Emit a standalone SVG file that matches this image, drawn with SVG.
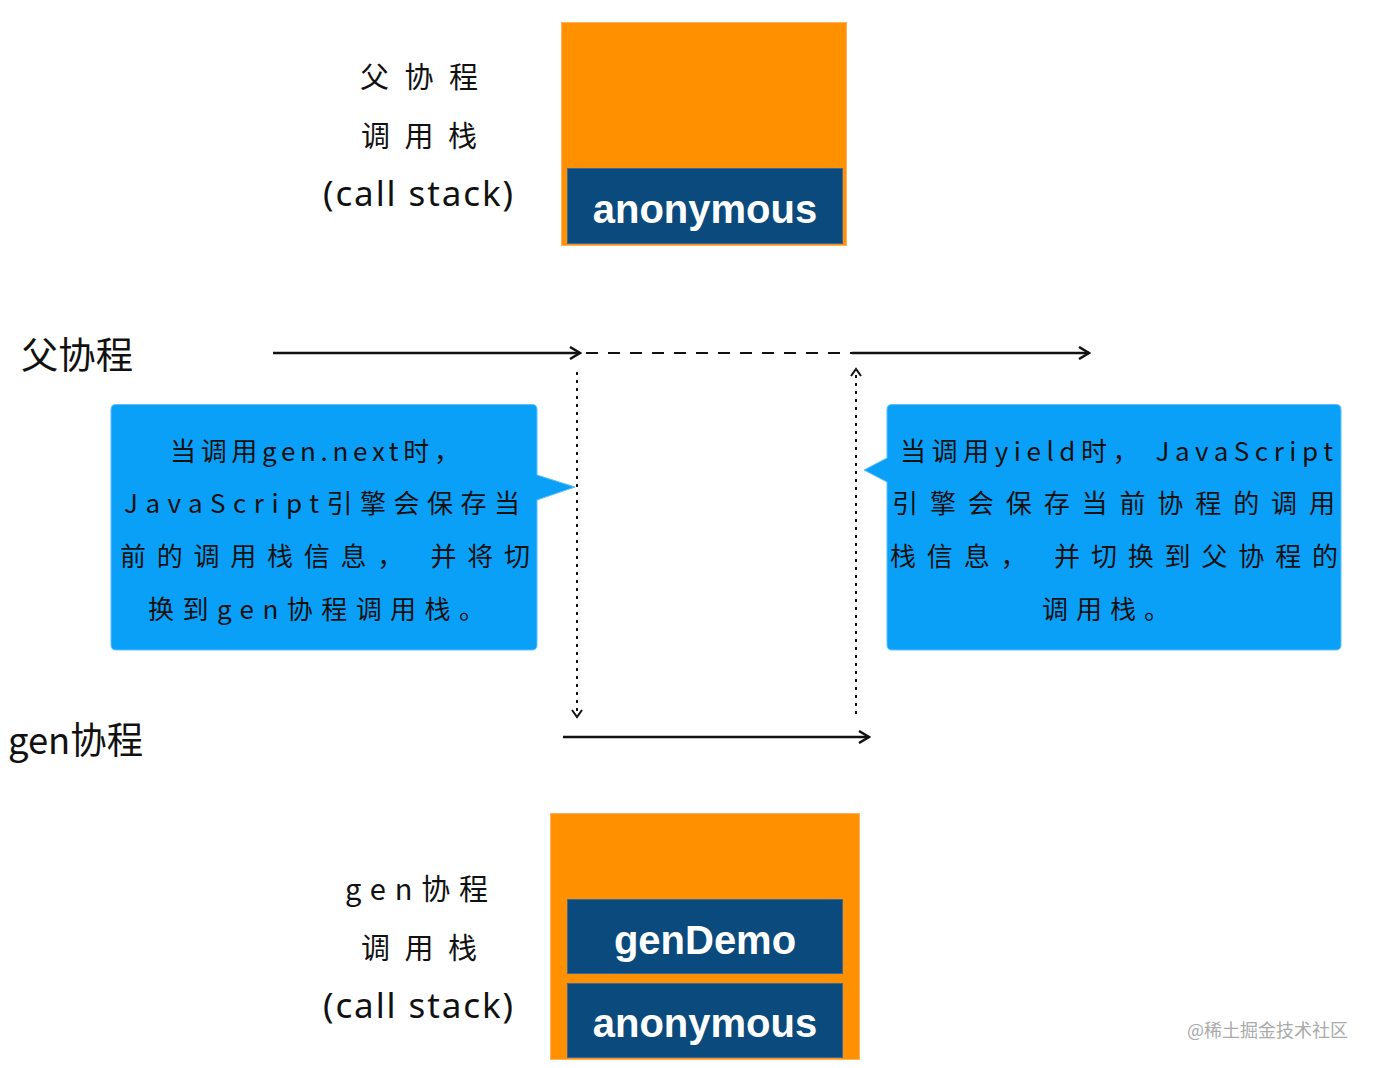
<svg xmlns="http://www.w3.org/2000/svg" width="1375" height="1068" viewBox="0 0 1375 1068">
<style>
.lbl{font-family:"Noto Sans CJK SC","Noto Sans",sans-serif;font-size:29px;fill:#111;}
.cs{font-family:"Noto Sans","Noto Sans CJK SC",sans-serif;font-size:35px;fill:#111;}
.big{font-family:"Noto Sans CJK SC","Noto Sans",sans-serif;font-size:37px;fill:#111;}
.ct{font-family:"Noto Sans CJK SC","Noto Sans",sans-serif;font-size:26px;fill:#111;}
.frame{font-family:"Liberation Sans",Arial,sans-serif;font-size:40px;font-weight:bold;fill:#fff;text-anchor:middle;}
.stack{fill:#ff9100;stroke:#ffb060;stroke-width:1;}
.navy{fill:#0a4a7c;stroke:#3a6a9a;stroke-width:1;}
.call{fill:#0aa0f8;stroke:#5cc0ff;stroke-width:1;}
.solid{stroke:#111;stroke-width:2.5;fill:none;}
.dash{stroke:#111;stroke-width:2;fill:none;stroke-dasharray:12 10;}
.dot{stroke:#111;stroke-width:2;fill:none;stroke-dasharray:3 5;}
</style>
<defs>
<marker id="open" markerWidth="14" markerHeight="14" refX="12" refY="7" orient="auto" markerUnits="userSpaceOnUse">
<path d="M2,1 L12,7 L2,13" fill="none" stroke="#111" stroke-width="2.5"/>
</marker>
<marker id="small" markerWidth="12" markerHeight="12" refX="10" refY="6" orient="auto" markerUnits="userSpaceOnUse">
<path d="M3,1 L10,6 L3,11" fill="none" stroke="#111" stroke-width="2"/>
</marker>
</defs>

<g id="parent-stack-label">
<text class="lbl" x="360" y="88" textLength="118" lengthAdjust="spacing">父协程</text>
<text class="lbl" x="361" y="147" textLength="116" lengthAdjust="spacing">调用栈</text>
<text class="cs" x="323" y="206" textLength="190" lengthAdjust="spacing">(call stack)</text>
</g>
<g id="parent-stack">
<rect class="stack" x="561.5" y="22.5" width="285" height="223"/>
<rect class="navy" x="567.5" y="168.5" width="275" height="75"/>
<text class="frame" x="705" y="223">anonymous</text>
</g>

<g id="parent-label"><text class="big" x="21" y="369" textLength="112" lengthAdjust="spacingAndGlyphs">父协程</text></g>
<g id="gen-label"><text class="big" x="8" y="754" font-size="35" textLength="135" lengthAdjust="spacingAndGlyphs">gen协程</text></g>

<g id="connectors">
<line class="solid" x1="273" y1="353" x2="580" y2="353" marker-end="url(#open)"/>
<line class="dash" x1="586" y1="353" x2="852" y2="353"/>
<line class="solid" x1="852" y1="353" x2="1089" y2="353" marker-end="url(#open)"/>
<line class="dot" x1="577" y1="372" x2="577" y2="717" marker-end="url(#small)"/>
<line class="dot" x1="856" y1="714" x2="856" y2="369" marker-end="url(#small)"/>
<line class="solid" x1="563" y1="737" x2="869" y2="737" marker-end="url(#open)"/>
</g>

<g id="callout-left">
<path class="call" d="M116,404.5 H532 Q537,404.5 537,409.5 V475 L575,487 L537,500 V645 Q537,650 532,650 H116 Q111,650 111,645 V409.5 Q111,404.5 116,404.5 Z"/>
<text class="ct" x="170" y="461" textLength="290" lengthAdjust="spacing">当调用gen.next时，</text>
<text class="ct" x="124" y="513" textLength="396" lengthAdjust="spacing">JavaScript引擎会保存当</text>
<text class="ct" x="120" y="566" textLength="410" lengthAdjust="spacing">前的调用栈信息， 并将切</text>
<text class="ct" x="148" y="619" textLength="337" lengthAdjust="spacing">换到gen协程调用栈。</text>
</g>

<g id="callout-right">
<path class="call" d="M892,404.5 H1336 Q1341,404.5 1341,409.5 V645 Q1341,650 1336,650 H892 Q887,650 887,645 V482 L864,470 L887,458 V409.5 Q887,404.5 892,404.5 Z"/>
<text class="ct" x="900" y="461" textLength="433" lengthAdjust="spacing">当调用yield时， JavaScript</text>
<text class="ct" x="892" y="513" textLength="443" lengthAdjust="spacing">引擎会保存当前协程的调用</text>
<text class="ct" x="890" y="566" textLength="448" lengthAdjust="spacing">栈信息， 并切换到父协程的</text>
<text class="ct" x="1042" y="619" textLength="128" lengthAdjust="spacing">调用栈。</text>
</g>

<g id="gen-stack-label">
<text class="lbl" x="345" y="900" textLength="143" lengthAdjust="spacing">gen协程</text>
<text class="lbl" x="361" y="959" textLength="116" lengthAdjust="spacing">调用栈</text>
<text class="cs" x="323" y="1018" textLength="190" lengthAdjust="spacing">(call stack)</text>
</g>
<g id="gen-stack">
<rect class="stack" x="550.5" y="813.5" width="309" height="246"/>
<rect class="navy" x="567.5" y="899.5" width="275" height="74"/>
<text class="frame" x="705" y="954" font-size="41">genDemo</text>
<rect class="navy" x="567.5" y="983.5" width="275" height="74"/>
<text class="frame" x="705" y="1037">anonymous</text>
</g>

<text x="1187" y="1037" font-family="'Noto Sans CJK SC',sans-serif" font-size="18" fill="#aaa">@稀土掘金技术社区</text>
</svg>
